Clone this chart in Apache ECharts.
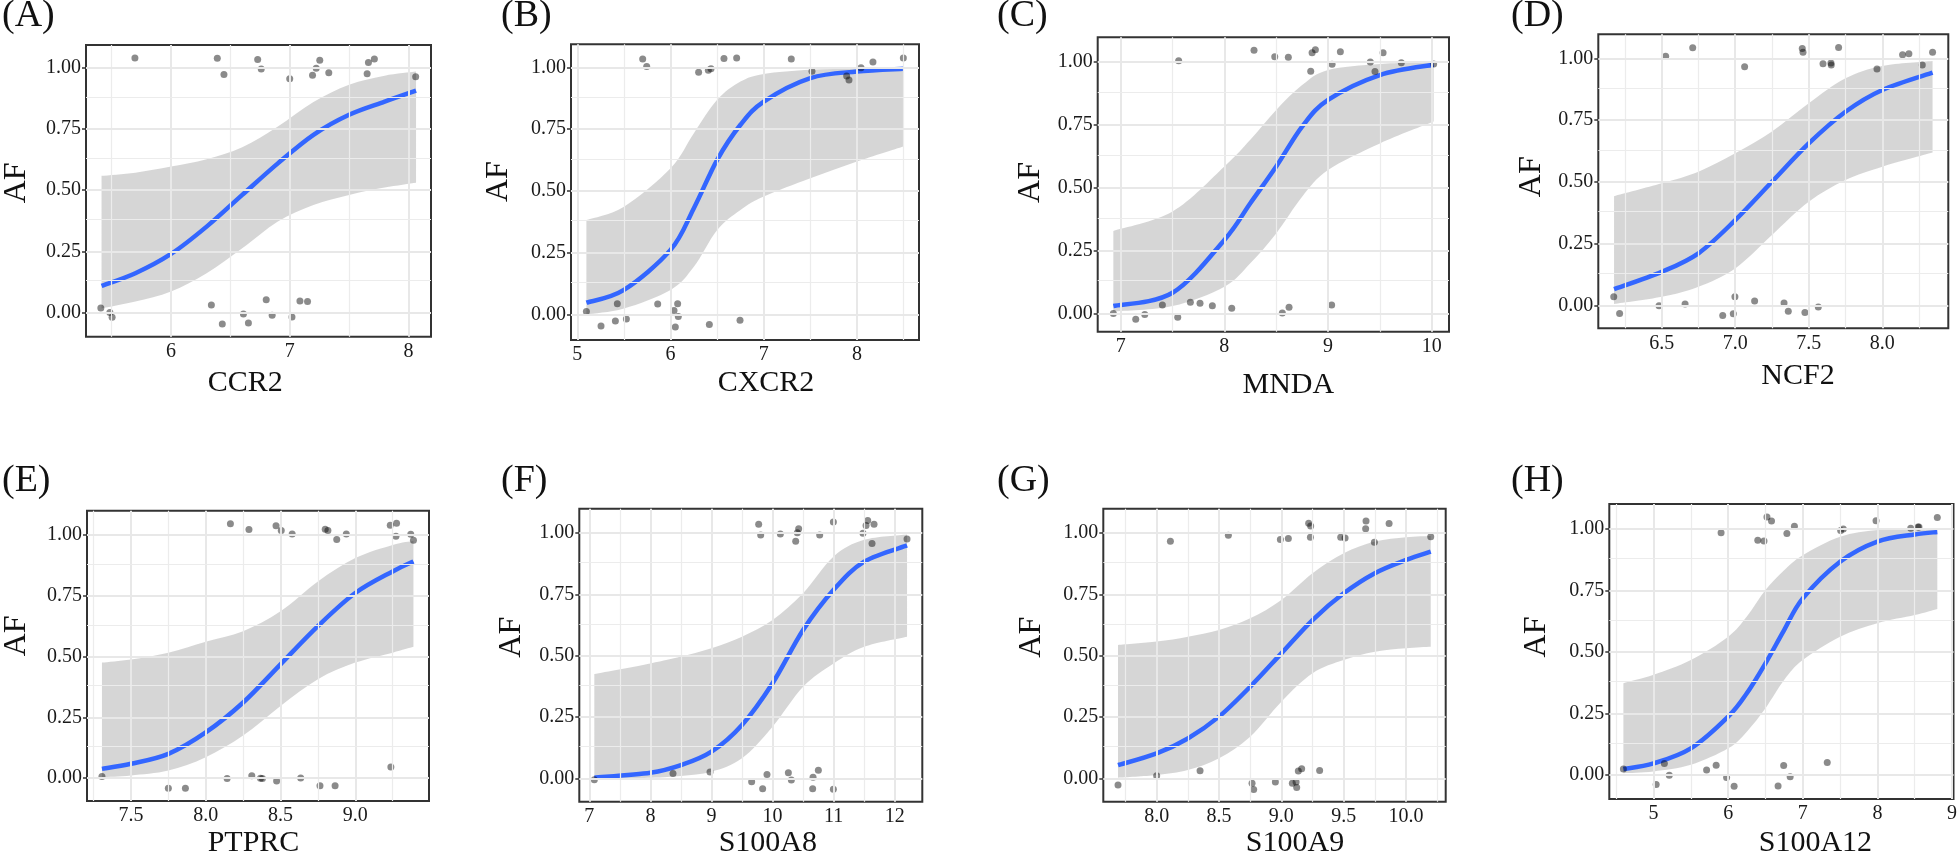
<!DOCTYPE html>
<html><head><meta charset="utf-8">
<script src="https://cdn.jsdelivr.net/npm/echarts@6/dist/echarts.min.js"></script>
<style>html,body{margin:0;padding:0;background:#fff}#c{width:1960px;height:859px}</style>
</head><body><div id="c"></div>
<script>
// ---------------- DATA ----------------
const panelLabels = ['(A)','(B)','(C)','(D)','(E)','(F)','(G)','(H)'];
const genes = ['CCR2','CXCR2','MNDA','NCF2','PTPRC','S100A8','S100A9','S100A12'];
const yAxisTitle = 'AF';
const yTicks = [0, 0.25, 0.5, 0.75, 1];
const yMinorTicks = [0.125, 0.375, 0.625, 0.875];

// x tick labels / minor grid per panel
const xTicksA = [6, 7, 8],           xMinorA = [5.5, 6.5, 7.5];
const xTicksB = [5, 6, 7, 8],        xMinorB = [5.5, 6.5, 7.5, 8.5];
const xTicksC = [7, 8, 9, 10],       xMinorC = [7.5, 8.5, 9.5];
const xTicksD = [6.5, 7.0, 7.5, 8.0], xMinorD = [6.25, 6.75, 7.25, 7.75, 8.25];
const xTicksE = [7.5, 8.0, 8.5, 9.0], xMinorE = [7.25, 7.75, 8.25, 8.75, 9.25];
const xTicksF = [7, 8, 9, 10, 11, 12], xMinorF = [7.5, 8.5, 9.5, 10.5, 11.5];
const xTicksG = [8.0, 8.5, 9.0, 9.5, 10.0], xMinorG = [7.75, 8.25, 8.75, 9.25, 9.75, 10.25];
const xTicksH = [5, 6, 7, 8, 9],     xMinorH = [4.5, 5.5, 6.5, 7.5, 8.5];

// (A) CCR2
const ccr2X = [5.696,6.390,6.446,6.730,6.760,7.000,7.192,7.223,7.253,7.329,7.652,7.663,7.713,8.061,5.409,5.485,5.504,6.340,6.432,6.610,6.652,6.802,6.852,7.019,7.086,7.150];
const ccr2Y = [1.042,1.041,0.974,1.036,0.997,0.957,0.971,1.000,1.033,0.981,0.977,1.023,1.038,0.965,0.018,-0.001,-0.020,0.030,-0.048,-0.007,-0.044,0.051,-0.012,-0.019,0.046,0.044];
const ccr2FitX = [5.415,5.7,6.0,6.3,6.6,6.9,7.2,7.5,7.8,8.064];
const ccr2Fit  = [0.108,0.160,0.239,0.351,0.481,0.610,0.727,0.809,0.863,0.908];
const ccr2Hi   = [0.559,0.572,0.597,0.627,0.676,0.761,0.861,0.932,0.969,0.986];
const ccr2Lo   = [0.016,0.044,0.085,0.160,0.262,0.372,0.440,0.481,0.511,0.531];

// (B) CXCR2
const cxcr2X = [5.701,5.744,6.301,6.405,6.434,6.573,6.709,7.295,7.517,7.889,7.914,8.043,8.171,8.497,5.097,5.254,5.408,5.429,5.526,5.862,6.037,6.051,6.076,6.083,6.416,6.745];
const cxcr2Y = [1.034,1.004,0.981,0.989,0.995,1.036,1.039,1.034,0.985,0.966,0.949,0.999,1.022,1.039,0.011,-0.047,-0.027,0.043,-0.019,0.042,0.016,-0.051,0.043,-0.009,-0.041,-0.024];
const cxcr2FitX = [5.097,5.5,6.0,6.25,6.5,6.75,7.0,7.5,8.0,8.497];
const cxcr2Fit  = [0.047,0.099,0.261,0.430,0.626,0.768,0.862,0.957,0.984,0.995];
const cxcr2Hi   = [0.382,0.436,0.592,0.734,0.869,0.943,0.974,0.991,0.995,0.997];
const cxcr2Lo   = [0.000,0.024,0.099,0.193,0.342,0.423,0.477,0.551,0.619,0.680];

// (C) MNDA
const mndaX = [7.559,8.286,8.486,8.617,8.833,8.846,8.878,9.039,9.119,9.408,9.453,9.531,9.707,10.019,6.929,7.145,7.232,7.402,7.550,7.672,7.765,7.884,8.071,8.559,8.624,9.035];
const mndaY = [1.005,1.046,1.021,1.019,0.963,1.037,1.048,0.991,1.041,1.000,0.962,1.037,0.997,0.992,-0.001,-0.023,-0.005,0.033,-0.016,0.044,0.040,0.030,0.020,0.001,0.024,0.033];
const mndaFitX = [6.929,7.5,8.0,8.25,8.5,8.75,9.0,9.5,10.019];
const mndaFit  = [0.029,0.082,0.292,0.438,0.584,0.743,0.849,0.948,0.989];
const mndaHi   = [0.328,0.405,0.584,0.690,0.809,0.908,0.968,0.992,1.000];
const mndaLo   = [0.007,0.029,0.106,0.199,0.318,0.464,0.570,0.676,0.763];

// (D) NCF2
const ncf2X = [6.527,6.711,7.064,7.456,7.461,7.597,7.651,7.653,7.703,7.964,8.138,8.181,8.272,8.342,6.174,6.214,6.482,6.659,6.915,6.987,6.998,7.132,7.332,7.361,7.474,7.565];
const ncf2Y = [1.008,1.043,0.966,1.040,1.024,0.978,0.981,0.973,1.044,0.957,1.014,1.018,0.973,1.024,0.036,-0.031,0.000,0.007,-0.039,-0.032,0.036,0.019,0.011,-0.022,-0.027,-0.005];
const ncf2FitX = [6.176,6.5,6.75,7.0,7.25,7.5,7.75,8.0,8.342];
const ncf2Fit  = [0.067,0.137,0.212,0.346,0.501,0.656,0.784,0.872,0.942];
const ncf2Hi   = [0.443,0.495,0.542,0.616,0.704,0.818,0.919,0.969,0.989];
const ncf2Lo   = [0.007,0.036,0.077,0.151,0.286,0.420,0.508,0.562,0.619];

// (E) PTPRC
const ptprcX = [8.165,8.289,8.470,8.505,8.578,8.799,8.817,8.876,8.940,9.234,9.276,9.272,9.371,9.389,7.306,7.750,7.864,8.143,8.308,8.366,8.379,8.474,8.635,8.764,8.865,9.238];
const ptprcY = [1.046,1.022,1.038,1.018,1.004,1.023,1.018,0.981,1.004,1.040,1.048,0.995,1.003,0.978,0.007,-0.042,-0.042,-0.001,0.010,0.000,-0.001,-0.012,0.001,-0.031,-0.031,0.046];
const ptprcFitX = [7.306,7.5,7.75,8.0,8.25,8.5,8.75,9.0,9.25,9.389];
const ptprcFit  = [0.038,0.059,0.100,0.188,0.311,0.468,0.625,0.761,0.850,0.891];
const ptprcHi   = [0.475,0.488,0.516,0.561,0.604,0.686,0.809,0.905,0.959,0.975];
const ptprcLo   = [0.004,0.011,0.031,0.086,0.175,0.297,0.407,0.475,0.516,0.540];

// (F) S100A8
const s100a8X = [9.773,9.806,10.128,10.379,10.406,10.428,10.772,10.996,11.481,11.531,11.558,11.662,11.629,12.202,7.082,8.370,8.976,9.658,9.838,9.909,10.259,10.308,10.663,10.657,10.750,10.996];
const s100a8Y = [1.037,0.993,0.997,0.967,1.002,1.018,0.993,1.046,1.000,1.031,1.052,1.037,0.958,0.976,-0.005,0.020,0.026,-0.014,-0.042,0.016,0.023,-0.007,0.005,-0.042,0.033,-0.044];
const s100a8FitX = [7.082,8.0,8.5,9.0,9.5,10.0,10.5,11.0,11.5,12.202];
const s100a8Fit  = [0.003,0.023,0.054,0.109,0.218,0.388,0.605,0.769,0.884,0.950];
const s100a8Hi   = [0.426,0.469,0.497,0.531,0.578,0.646,0.755,0.905,0.973,0.995];
const s100a8Lo   = [0.000,0.003,0.010,0.027,0.082,0.211,0.374,0.469,0.537,0.578];

// (G) S100A9
const s100a9X = [8.110,8.575,8.992,9.056,9.219,9.235,9.233,9.476,9.511,9.679,9.676,9.746,9.864,10.198,7.690,8.000,8.348,8.765,8.778,8.952,9.088,9.118,9.123,9.136,9.163,9.307];
const s100a9Y = [0.967,0.992,0.974,0.978,1.041,1.029,0.984,0.984,0.980,1.050,1.018,0.963,1.040,0.986,-0.027,0.011,0.031,-0.020,-0.045,-0.015,-0.020,-0.015,-0.037,0.030,0.039,0.032];
const s100a9FitX = [7.690,8.0,8.25,8.5,8.75,9.0,9.25,9.5,9.75,10.0,10.198];
const s100a9Fit  = [0.054,0.102,0.163,0.252,0.374,0.510,0.646,0.755,0.837,0.891,0.925];
const s100a9Hi   = [0.544,0.558,0.578,0.605,0.653,0.728,0.837,0.918,0.966,0.984,0.989];
const s100a9Lo   = [0.003,0.014,0.034,0.082,0.170,0.313,0.429,0.483,0.517,0.531,0.537];

// (H) S100A12
const s100a12X = [5.905,6.397,6.480,6.520,6.581,6.787,6.888,7.508,7.543,7.982,8.447,8.544,8.557,8.803,4.596,5.035,5.145,5.211,5.711,5.839,5.979,6.080,6.669,6.744,6.831,7.328];
const s100a12Y = [0.985,0.955,0.951,1.049,1.033,0.982,1.011,0.994,1.000,1.034,1.003,1.008,1.008,1.047,0.024,-0.039,0.046,-0.001,0.020,0.039,-0.011,-0.046,-0.045,0.038,-0.007,0.050];
const s100a12FitX = [4.596,5.0,5.5,6.0,6.25,6.5,6.75,7.0,7.5,8.0,8.5,8.803];
const s100a12Fit  = [0.024,0.047,0.108,0.237,0.332,0.454,0.589,0.718,0.867,0.949,0.978,0.988];
const s100a12Hi   = [0.373,0.407,0.467,0.562,0.644,0.752,0.833,0.894,0.969,0.996,1.000,1.000];
const s100a12Lo   = [0.007,0.014,0.041,0.108,0.176,0.271,0.386,0.467,0.562,0.617,0.650,0.675];

// ---------------- TABLE (built from the arrays) ----------------
const panelData = [
  {px: ccr2X, py: ccr2Y, cx: ccr2FitX, fit: ccr2Fit, hi: ccr2Hi, lo: ccr2Lo, ticks: xTicksA, minor: xMinorA, dec: 0},
  {px: cxcr2X, py: cxcr2Y, cx: cxcr2FitX, fit: cxcr2Fit, hi: cxcr2Hi, lo: cxcr2Lo, ticks: xTicksB, minor: xMinorB, dec: 0},
  {px: mndaX, py: mndaY, cx: mndaFitX, fit: mndaFit, hi: mndaHi, lo: mndaLo, ticks: xTicksC, minor: xMinorC, dec: 0},
  {px: ncf2X, py: ncf2Y, cx: ncf2FitX, fit: ncf2Fit, hi: ncf2Hi, lo: ncf2Lo, ticks: xTicksD, minor: xMinorD, dec: 1},
  {px: ptprcX, py: ptprcY, cx: ptprcFitX, fit: ptprcFit, hi: ptprcHi, lo: ptprcLo, ticks: xTicksE, minor: xMinorE, dec: 1},
  {px: s100a8X, py: s100a8Y, cx: s100a8FitX, fit: s100a8Fit, hi: s100a8Hi, lo: s100a8Lo, ticks: xTicksF, minor: xMinorF, dec: 0},
  {px: s100a9X, py: s100a9Y, cx: s100a9FitX, fit: s100a9Fit, hi: s100a9Hi, lo: s100a9Lo, ticks: xTicksG, minor: xMinorG, dec: 1},
  {px: s100a12X, py: s100a12Y, cx: s100a12FitX, fit: s100a12Fit, hi: s100a12Hi, lo: s100a12Lo, ticks: xTicksH, minor: xMinorH, dec: 0}
];

// ---------------- LAYOUT ----------------
const layout = [
  {l:83.3,  t:45,    w:347.7, h:291.7, xmin:5.284, xmax:8.19,   ymin:-0.100, ymax:1.095, xg:31, xs:-13.3, yg:53, ys:8,    lx:2,      ly:-3},
  {l:571,   t:44.3,  w:348,   h:295.7, xmin:4.932, xmax:8.665,  ymin:-0.104, ymax:1.094, xg:28, xs:21,    yg:56, ys:10.5, lx:501,    ly:-3},
  {l:1097.7,t:37.3,  w:351.3, h:294.4, xmin:6.778, xmax:10.167, ymin:-0.073, ymax:1.098, xg:38, xs:15,    yg:51, ys:2,    lx:997,    ly:-3},
  {l:1598.3,t:34.3,  w:350,   h:294,   xmin:6.069, xmax:8.449,  ymin:-0.091, ymax:1.097, xg:33, xs:24.7,  yg:51, ys:4.6,  lx:1511,   ly:-3},
  {l:84,    t:510.7, w:345,   h:291.6, xmin:7.206, xmax:9.493,  ymin:-0.094, ymax:1.0996,xg:27, xs:-4.5,  yg:54, ys:20,   lx:2,      ly:462},
  {l:579.3, t:508.7, w:343,   h:293,   xmin:6.836, xmax:12.452, ymin:-0.095, ymax:1.100, xg:26, xs:17,    yg:52, ys:18,   lx:501,    ly:462},
  {l:1103.3,t:508.7, w:342.4, h:293,   xmin:7.572, xmax:10.318, ymin:-0.095, ymax:1.100, xg:26, xs:20.5,  yg:56, ys:18,   lx:997,    ly:462},
  {l:1609.3,t:504,   w:349.2, h:295,   xmin:4.407, xmax:9.02,   ymin:-0.098, ymax:1.102, xg:29, xs:34,    yg:57, ys:14.5, lx:1511,   ly:462}
];

const FONT = "'Liberation Serif', 'Times New Roman', serif";
const grids = [], xAxes = [], yAxes = [], series = [], graphics = [];

// Catmull-Rom spline through pixel points -> SVG cubic segments
function splineSegs(pts) {
  let s = '';
  for (let i = 0; i < pts.length - 1; i++) {
    const p0 = pts[i - 1] || pts[i], p1 = pts[i], p2 = pts[i + 1], p3 = pts[i + 2] || pts[i + 1];
    const c1 = [p1[0] + (p2[0] - p0[0]) / 6, p1[1] + (p2[1] - p0[1]) / 6];
    const c2 = [p2[0] - (p3[0] - p1[0]) / 6, p2[1] - (p3[1] - p1[1]) / 6];
    s += ' C' + c1[0] + ',' + c1[1] + ' ' + c2[0] + ',' + c2[1] + ' ' + p2[0] + ',' + p2[1];
  }
  return s;
}

panelData.forEach((p, i) => {
  const L = layout[i];
  grids.push({left: L.l, top: L.t, width: L.w, height: L.h, show: true,
    backgroundColor: '#fff', borderColor: '#333', borderWidth: 2, containLabel: false});
  graphics.push({type: 'text', x: L.lx, y: L.ly, silent: true,
    style: {text: panelLabels[i], font: "normal 38px 'Liberation Serif', serif", fill: '#111',
      verticalAlign: 'top', align: 'left'}});
  const xs = L.xs;
  xAxes.push({gridIndex: i, type: 'value', min: L.xmin, max: L.xmax,
    axisLine: {show: false}, splitLine: {show: false},
    axisTick: {show: true, length: 4, lineStyle: {color: '#333', width: 1.5}, customValues: p.ticks},
    axisLabel: {customValues: p.ticks, fontFamily: FONT, fontSize: 20, color: '#1a1a1a', margin: 5,
      formatter: v => p.dec ? Number(v).toFixed(p.dec) : String(Math.round(v))},
    name: genes[i], nameLocation: 'middle', nameGap: L.xg,
    nameTextStyle: {fontFamily: FONT, fontSize: 30, color: '#111',
      padding: xs >= 0 ? [0, 0, 0, 2 * xs] : [0, -2 * xs, 0, 0]}
  });
  yAxes.push({gridIndex: i, type: 'value', min: L.ymin, max: L.ymax,
    axisLine: {show: false}, splitLine: {show: false},
    axisTick: {show: true, length: 4, lineStyle: {color: '#333', width: 1.5}, customValues: yTicks},
    axisLabel: {customValues: yTicks, fontFamily: FONT, fontSize: 20, color: '#1a1a1a', margin: 5,
      formatter: v => Number(v).toFixed(2)},
    name: yAxisTitle, nameLocation: 'middle', nameGap: L.yg,
    nameTextStyle: {fontFamily: FONT, fontSize: 32, color: '#111', padding: [0, 0, 0, 2 * L.ys]}
  });
  // grid lines (ggplot-like major + minor)
  const gl = [];
  p.ticks.forEach(v => gl.push({xAxis: v, lineStyle: {color: '#e8e8e8', width: 2, type: 'solid'}}));
  p.minor.forEach(v => gl.push({xAxis: v, lineStyle: {color: '#ececec', width: 1.2, type: 'solid'}}));
  yTicks.forEach(v => gl.push({yAxis: v, lineStyle: {color: '#e8e8e8', width: 2, type: 'solid'}}));
  yMinorTicks.forEach(v => gl.push({yAxis: v, lineStyle: {color: '#ececec', width: 1.2, type: 'solid'}}));
  series.push({type: 'line', xAxisIndex: i, yAxisIndex: i, data: [], silent: true, z: 1,
    markLine: {silent: true, symbol: ['none', 'none'], label: {show: false}, animation: false, data: gl}});
  // confidence band (area between upper and lower bound, mapped with api.coord)
  series.push({type: 'custom', xAxisIndex: i, yAxisIndex: i, silent: true, z: 2,
    data: [[p.cx[0], p.lo[0]]],
    renderItem: (params, api) => {
      const up = p.cx.map((x, k) => api.coord([x, p.hi[k]]));
      const lo = p.cx.map((x, k) => api.coord([x, p.lo[k]])).reverse();
      const d = 'M' + up[0][0] + ',' + up[0][1] + splineSegs(up) +
                ' L' + lo[0][0] + ',' + lo[0][1] + splineSegs(lo) + ' Z';
      return {type: 'path', shape: {pathData: d}, style: {fill: 'rgba(153,153,153,0.4)', stroke: null}};
    }});
  // fitted logistic curve
  series.push({type: 'custom', xAxisIndex: i, yAxisIndex: i, silent: true, z: 3,
    data: [[p.cx[0], p.fit[0]]],
    renderItem: (params, api) => {
      const pts = p.cx.map((x, k) => api.coord([x, p.fit[k]]));
      const d = 'M' + pts[0][0] + ',' + pts[0][1] + splineSegs(pts);
      return {type: 'path', shape: {pathData: d},
        style: {fill: null, stroke: '#3366FF', lineWidth: 4.5, lineCap: 'butt', lineJoin: 'round'}};
    }});
  // jittered points
  series.push({type: 'scatter', xAxisIndex: i, yAxisIndex: i, symbolSize: 7, z: 4, silent: true,
    itemStyle: {color: 'rgba(0,0,0,0.57)'},
    data: p.px.map((x, k) => [x, p.py[k]])});
});

const chart = echarts.init(document.getElementById('c'), null, {renderer: 'canvas'});
chart.setOption({animation: false, backgroundColor: '#fff', graphic: graphics,
  grid: grids, xAxis: xAxes, yAxis: yAxes, series: series});
</script>
</body></html>
